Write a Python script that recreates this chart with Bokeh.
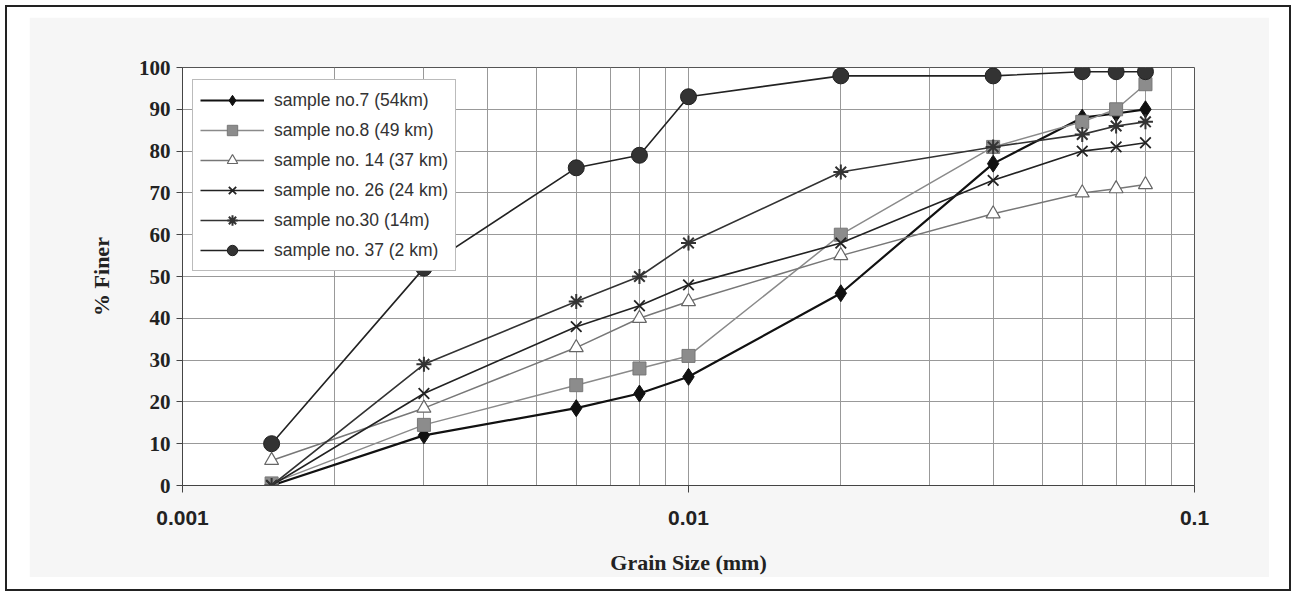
from bokeh.plotting import figure
from bokeh.models import FixedTicker, CustomJSTickFormatter, Legend, LegendItem
from bokeh.layouts import column
from bokeh.embed import file_html
from bokeh.resources import INLINE

# ---------------- data ----------------
grain_size = [0.0015, 0.003, 0.006, 0.008, 0.01, 0.02, 0.04, 0.06, 0.07, 0.08]
s7 = [0, 12, 18.5, 22, 26, 46, 77, 88, 89, 90]
s8 = [0.5, 14.5, 24, 28, 31, 60, 81, 87, 90, 96]
s14 = [6, 18.5, 33, 40, 44, 55, 65, 70, 71, 72]
s26 = [0, 22, 38, 43, 48, 58, 73, 80, 81, 82]
s30 = [0, 29, 44, 50, 58, 75, 81, 84, 86, 87]
s37 = [10, 52, 76, 79, 93, 98, 98, 99, 99, 99]
series_labels = ["sample no.7 (54km)", "sample no.8 (49 km)", "sample no. 14 (37 km)",
                 "sample no. 26 (24 km)", "sample no.30 (14m)", "sample no. 37 (2 km)"]
x_ticks = [0.001, 0.01, 0.1]
y_ticks = [0, 10, 20, 30, 40, 50, 60, 70, 80, 90, 100]
x_title = "Grain Size (mm)"
y_title = "% Finer"

# ---------------- figure ----------------
p = figure(width=1240, height=560, x_axis_type="log", x_range=(0.001, 0.1), y_range=(0, 100),
           output_backend="svg", toolbar_location=None,
           min_border_left=153, min_border_right=75, min_border_top=50, min_border_bottom=91)
p.border_fill_color = "#f6f6f6"
p.background_fill_color = "white"
p.outline_line_color = "#555"
p.outline_line_width = 1

minor = [m * 10.0 ** e for e in (-3, -2) for m in range(2, 10)]
p.xaxis.ticker = FixedTicker(ticks=x_ticks, minor_ticks=minor)
p.xaxis.formatter = CustomJSTickFormatter(code="return tick.toString();")
p.yaxis.ticker = FixedTicker(ticks=y_ticks)

for ax in (p.xaxis[0], p.yaxis[0]):
    ax.axis_line_color = "#444"
    ax.major_tick_line_color = "#444"
    ax.minor_tick_in = 0
    ax.minor_tick_out = 0
    ax.major_tick_in = 0
    ax.major_label_text_color = "#222"
    ax.axis_label_text_color = "#222"
    ax.axis_label_text_font = "Liberation Serif"
    ax.axis_label_text_font_style = "bold"
    ax.axis_label_text_font_size = "22px"

p.xaxis.major_tick_out = 7
p.xaxis.major_label_standoff = 18
p.xaxis.major_label_text_font = "Liberation Sans"
p.xaxis.major_label_text_font_style = "bold"
p.xaxis.major_label_text_font_size = "21px"
p.xaxis.axis_label = x_title
p.xaxis.axis_label_standoff = 22

p.yaxis.major_tick_out = 6
p.yaxis.major_label_standoff = 6
p.yaxis.major_label_text_font = "Liberation Serif"
p.yaxis.major_label_text_font_style = "bold"
p.yaxis.major_label_text_font_size = "21px"
p.yaxis.axis_label = y_title
p.yaxis.axis_label_standoff = 22

p.xgrid.grid_line_color = "#999"
p.xgrid.minor_grid_line_color = "#999"
p.ygrid.grid_line_color = "#999"

# ---------------- series ----------------
styles = [
    dict(y=s7, lc="#111", lw=2.2, marker="diamond", size=17, fill="#111", mline="#111", mlw=1),
    dict(y=s8, lc="#8a8a8a", lw=1.5, marker="square", size=13, fill="#8c8c8c", mline="#777", mlw=1),
    dict(y=s14, lc="#777", lw=1.5, marker="triangle", size=14, fill="white", mline="#666", mlw=1.2),
    dict(y=s26, lc="#222", lw=1.6, marker="x", size=15, fill=None, mline="#222", mlw=1.8),
    dict(y=s30, lc="#333", lw=1.6, marker="asterisk", size=15, fill=None, mline="#333", mlw=2),
    dict(y=s37, lc="#222", lw=1.6, marker="circle", size=16, fill="#333", mline="#222", mlw=1),
]

items = []
for st, lab in zip(styles, series_labels):
    ln = p.line(grain_size, st["y"], line_color=st["lc"], line_width=st["lw"])
    kw = dict(marker=st["marker"], size=st["size"], line_color=st["mline"], line_width=st["mlw"])
    if st["fill"] is None:
        kw["fill_alpha"] = 0
    else:
        kw["fill_color"] = st["fill"]
    sc = p.scatter(grain_size, st["y"], **kw)
    items.append(LegendItem(label=lab, renderers=[ln, sc]))

legend = Legend(items=items, location=(10, 214))
legend.label_text_font = "Liberation Sans"
legend.label_text_font_size = "17.5px"
legend.label_text_color = "#333"
legend.glyph_width = 64
legend.glyph_height = 26
legend.label_height = 20
legend.spacing = 4
legend.padding = 7
legend.label_standoff = 10
legend.border_line_color = "#777"
legend.border_line_width = 1
legend.background_fill_color = "white"
legend.background_fill_alpha = 1
p.add_layout(legend)

p.margin = (10, 20, 12, 22)
layout = column(p, styles={"border": "2px solid #222", "background-color": "white"})
layout.margin = (5, 0, 0, 5)

open("out.html", "w").write(file_html(layout, INLINE))
